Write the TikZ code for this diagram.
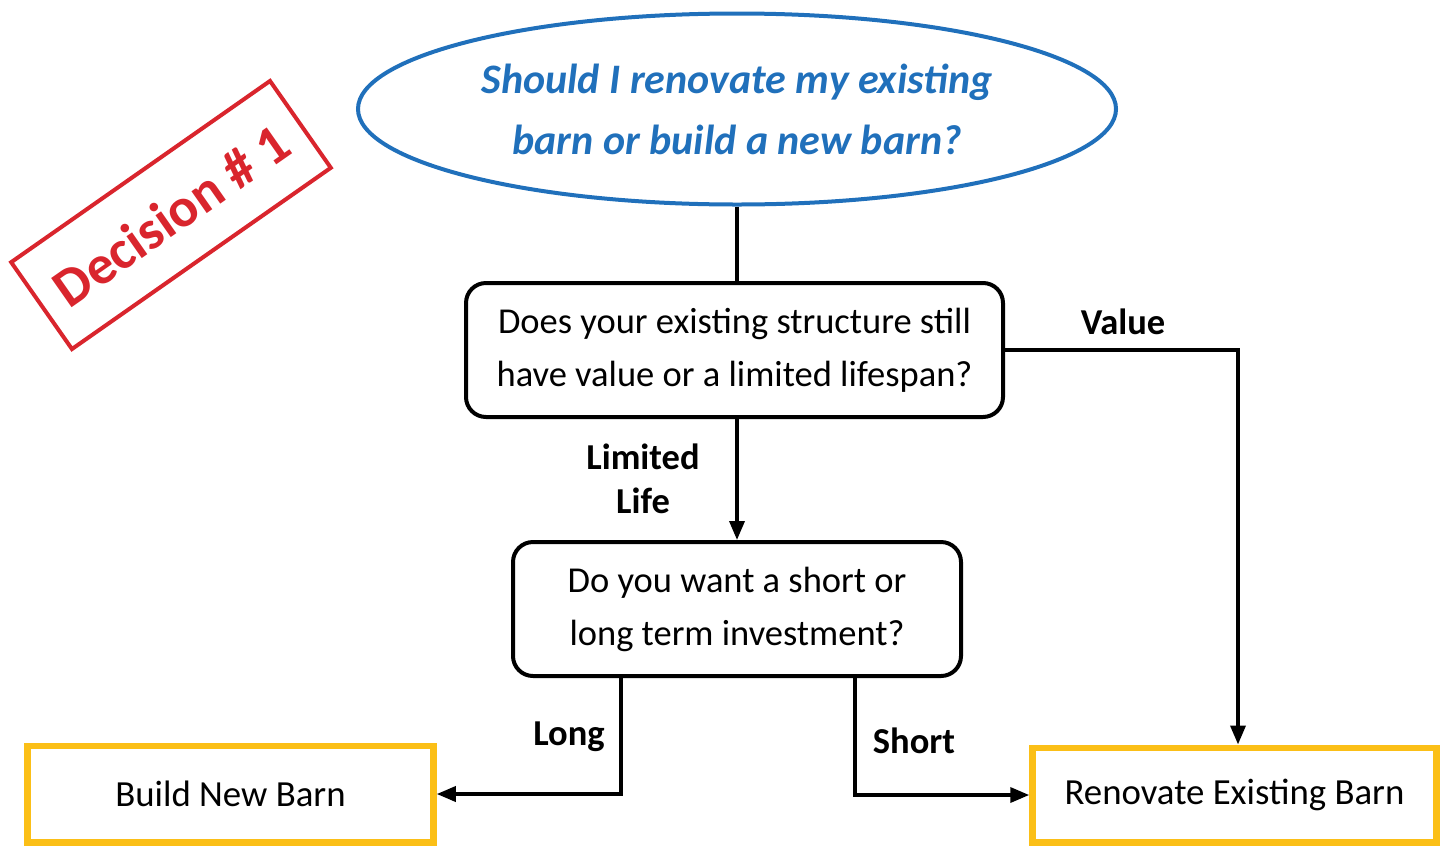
\documentclass[tikz,border=0pt]{standalone}
\usepackage{fontspec}
\setmainfont{Carlito}
\usetikzlibrary{shapes.geometric,arrows.meta,calc}
\definecolor{qblue}{HTML}{2070BB}
\definecolor{stampred}{HTML}{D9252D}
\definecolor{ansyellow}{HTML}{FBBF17}
\begin{document}
\begin{tikzpicture}[x=1pt,y=-1pt,
  qstyle/.style={ellipse, draw=qblue, line width=4pt, minimum width=758pt, minimum height=191pt,
    text=qblue, align=center, font=\fontsize{42}{61}\selectfont\bfseries\itshape},
  qbox/.style={draw=black, line width=4pt, rounded corners=20pt, align=center,
    font=\fontsize{36.5}{53}\selectfont},
  ansbox/.style={draw=ansyellow, line width=6.5pt, align=center, font=\fontsize{36.8}{40}\selectfont},
  lbl/.style={align=center, font=\fontsize{36.5}{44}\selectfont\bfseries},
  conn/.style={line width=3.5pt, -{Triangle[length=19pt,width=15pt]}},
  plain/.style={line width=3.5pt}
]
\useasboundingbox (0,0) rectangle (1447,847);
\node[qstyle] (q) at (737,109) {Should I renovate my existing\\barn or build a new barn?};
\node[qbox, minimum width=537pt, minimum height=134pt] (b1) at (734.5,350)
  {Does your existing structure still\\have value or a limited lifespan?};
\node[qbox, minimum width=448pt, minimum height=134pt] (b2) at (737,609)
  {Do you want a short or\\long term investment?};
\node[ansbox, minimum width=406pt, minimum height=96.5pt] (build) at (230.5,794) {Build New Barn};
\node[ansbox, minimum width=404pt, minimum height=94.5pt] (ren) at (1234.5,795) {Renovate Existing Barn};
\node[draw=stampred, line width=4pt, rotate=35, minimum width=316pt, minimum height=106pt,
  text=stampred, font=\fontsize{55}{60}\selectfont\bfseries] (stamp) at (171,215) {Decision \# 1};

\draw[plain] (q.south) -- (q.south |- b1.north);
\draw[conn] (b2.north |- b1.south) -- (b2.north);
\draw[conn] (b1.east) -| ([xshift=3.5pt]ren.north);
\draw[conn] ([xshift=-116pt]b2.south) |- (build.east);
\draw[conn] ([xshift=118pt]b2.south) |- (ren.west);

\node[lbl] (llim) at (643,479) {Limited\\Life};
\node[lbl] (lval) at (1123,322) {Value};
\node[lbl] (llong) at (569,737) {Long};
\node[lbl] (lshort) at (914,741) {Short};
\end{tikzpicture}
\end{document}
